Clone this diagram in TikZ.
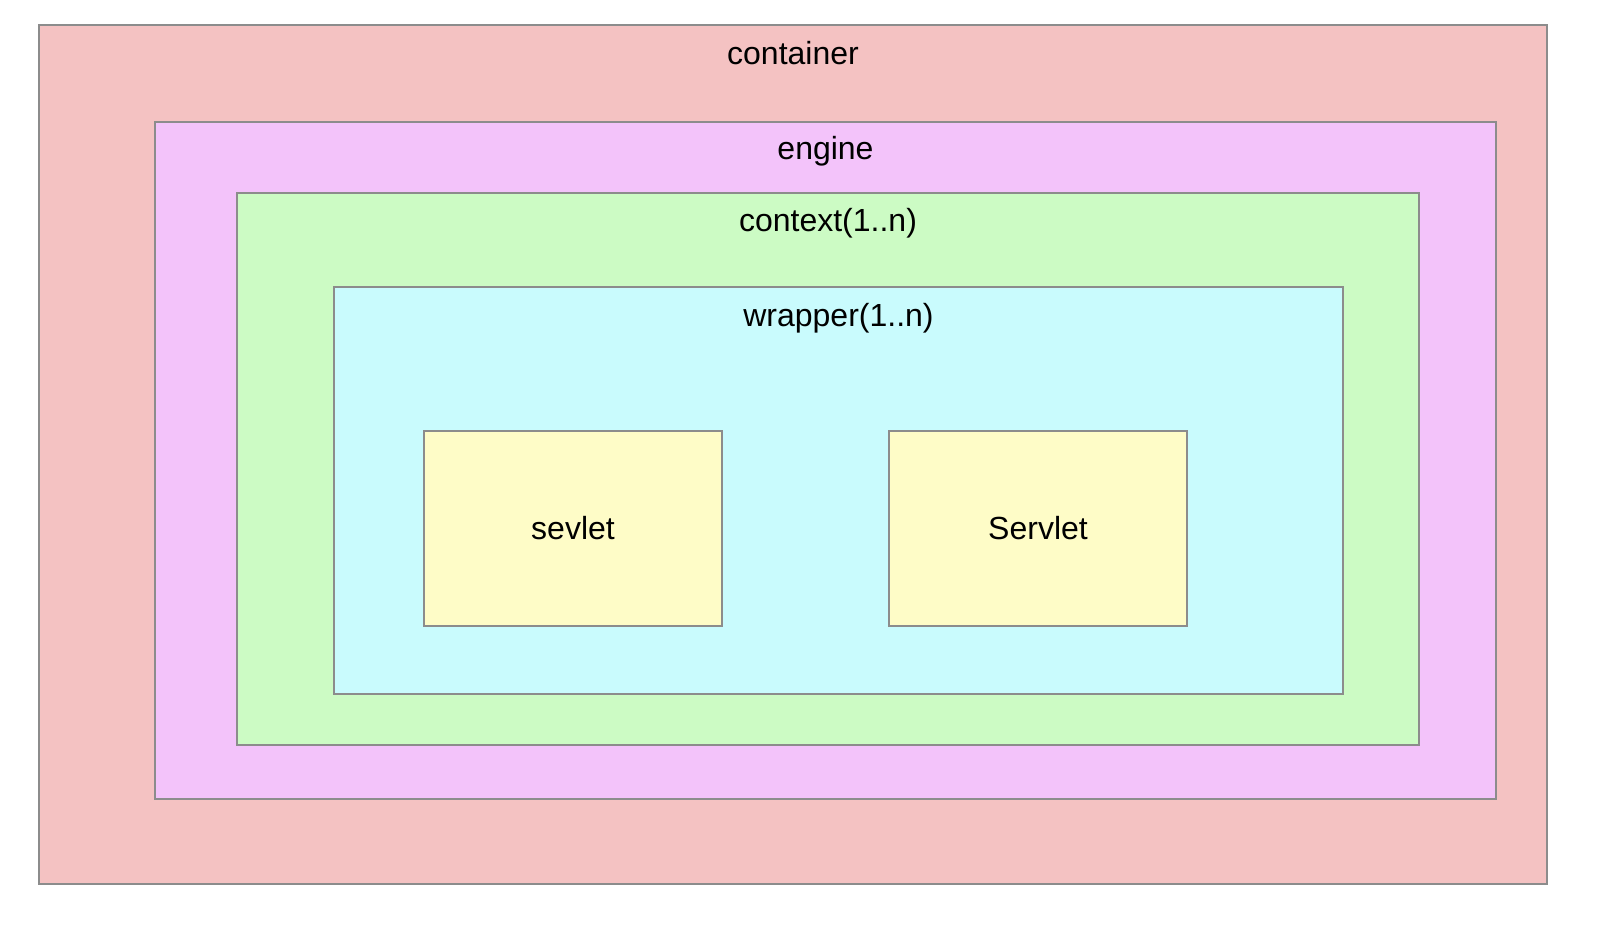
\documentclass[tikz,border=0pt]{standalone}
\usepackage{fontspec}
\setmainfont{Liberation Sans}
\usetikzlibrary{calc}

\definecolor{rimgray}{HTML}{8C8C8C}
\definecolor{containerred}{HTML}{F4C2C2}
\definecolor{enginepink}{HTML}{F3C3FA}
\definecolor{contextgreen}{HTML}{CCFBC4}
\definecolor{wrappercyan}{HTML}{C9FBFD}
\definecolor{servletyellow}{HTML}{FEFCC7}

\tikzset{
  layer/.style={draw=rimgray, line width=2pt, inner sep=0pt, outer sep=0pt},
  caption/.style={anchor=base, inner sep=0pt, font=\fontsize{32}{38}\selectfont}
}

\begin{document}
\begin{tikzpicture}[x=1pt, y=-1pt]
    \useasboundingbox (0,0) rectangle (1612,928);

    % nested layers
    \node[layer, fill=containerred, minimum width=1508pt, minimum height=859pt] (container) at (793, 454.5) {};
    \node[layer, fill=enginepink, minimum width=1341pt, minimum height=677pt] (engine) at (825.5, 460.5) {};
    \node[layer, fill=contextgreen, minimum width=1182pt, minimum height=552pt] (context) at (828, 469) {};
    \node[layer, fill=wrappercyan, minimum width=1009pt, minimum height=407pt] (wrapper) at (838.5, 490.5) {};

    % captions
    \node[caption] (container_cap) at ($(container.north) + (0, 40)$) {container};
    \node[caption] (engine_cap) at ($(engine.north) + (0, 38)$) {engine};
    \node[caption] (context_cap) at ($(context.north) + (0, 39)$) {context(1..n)};
    \node[caption] (wrapper_cap) at ($(wrapper.north) + (0, 39)$) {wrapper(1..n)};

    % servlets
    \node[layer, fill=servletyellow, minimum width=298pt, minimum height=195pt,
          font=\fontsize{32}{38}\selectfont] (sevlet) at (573, 528.5) {sevlet};
    \node[layer, fill=servletyellow, minimum width=298pt, minimum height=195pt,
          font=\fontsize{32}{38}\selectfont] (servlet) at (1038, 528.5) {Servlet};
\end{tikzpicture}
\end{document}
